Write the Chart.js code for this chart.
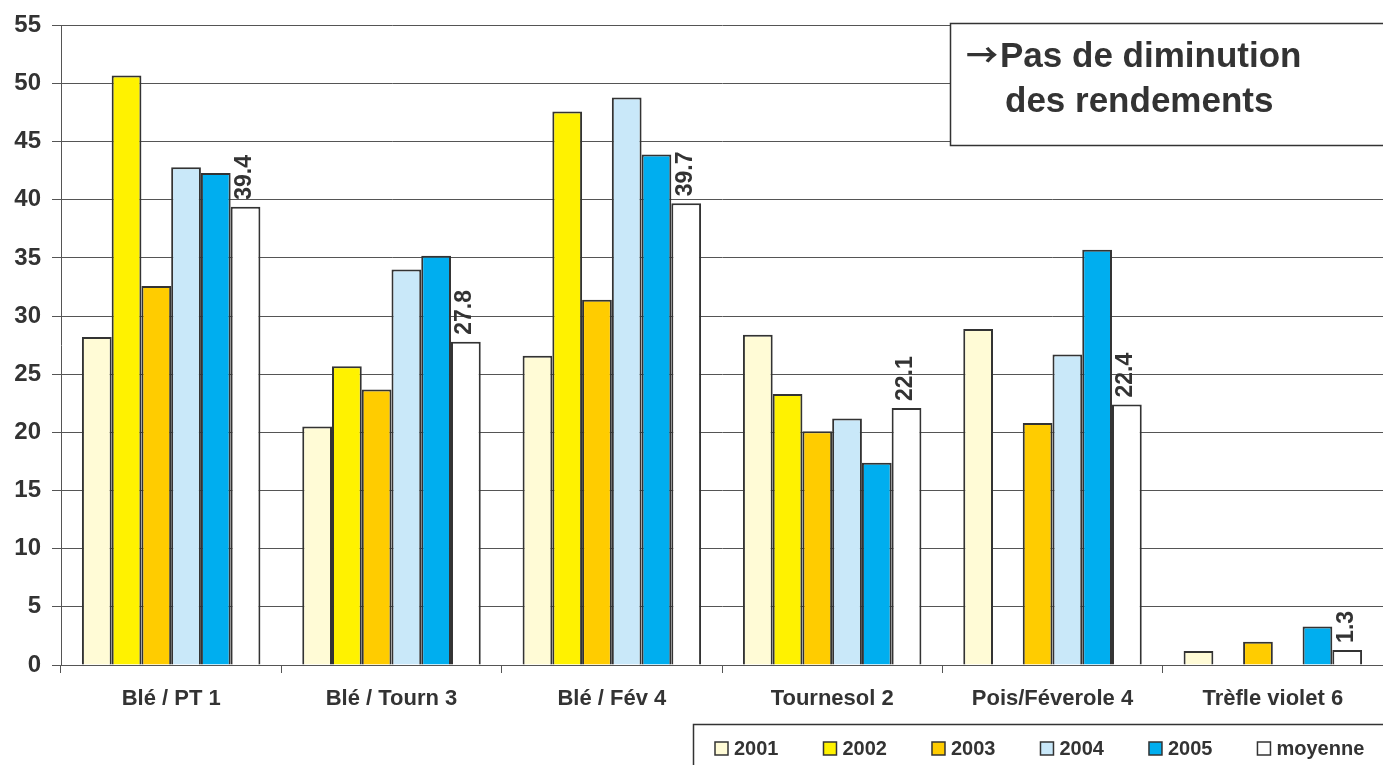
<!DOCTYPE html>
<html>
<head>
<meta charset="utf-8">
<script src="https://cdn.jsdelivr.net/npm/chart.js@4.4.1/dist/chart.umd.min.js"></script>
<style>
  html, body { margin: 0; padding: 0; background: #fff; }
  #wrap { width: 1383px; height: 765px; }
</style>
</head>
<body>
<div id="wrap"><canvas id="chart"></canvas></div>
<script>
const categories = ['Blé / PT 1', 'Blé / Tourn 3', 'Blé / Fév 4', 'Tournesol 2', 'Pois/Féverole 4', 'Trèfle violet 6'];
const years = ['2001', '2002', '2003', '2004', '2005', 'moyenne'];
const v2001 = [28.2, 20.5, 26.6, 28.4, 28.9, 1.2];
const v2002 = [50.7, 25.7, 47.6, 23.3, null, null];
const v2003 = [32.6, 23.7, 31.4, 20.1, 20.8, 2.0];
const v2004 = [42.8, 34.0, 48.8, 21.2, 26.7, null];
const v2005 = [42.3, 35.2, 43.9, 17.4, 35.7, 3.3];
const moyenne = [39.4, 27.8, 39.7, 22.1, 22.4, 1.3];
const colors = ['#FFFBD6', '#FFF200', '#FFCC00', '#C9E8F9', '#00AEEF', '#FFFFFF'];
const noteArrow = '\u2192';
const note = ['Pas de diminution', 'des rendements'];

const FONT = "'Liberation Sans', Arial, sans-serif";
const TEXT = '#333333';

const series = [v2001, v2002, v2003, v2004, v2005, moyenne];

const datasets = series.map((vals, i) => ({
    label: years[i],
    data: vals,
    backgroundColor: colors[i],
    borderColor: '#333333',
    borderWidth: 2,
    borderSkipped: 'bottom',
    categoryPercentage: 0.81,
    barPercentage: 1.0
}));

// label rotated above the "moyenne" bars + note box + legend
const extras = {
    id: 'extras',
    afterDatasetsDraw(chart) {
        const ctx = chart.ctx;
        const meta = chart.getDatasetMeta(5);
        ctx.save();
        ctx.fillStyle = TEXT;
        ctx.font = 'bold 23px ' + FONT;
        ctx.textAlign = 'left';
        ctx.textBaseline = 'middle';
        meta.data.forEach((bar, i) => {
            ctx.save();
            ctx.translate(bar.x - 1, bar.y - 7);
            ctx.rotate(-Math.PI / 2);
            ctx.fillText(moyenne[i].toFixed(1), 0, 0);
            ctx.restore();
        });
        ctx.restore();
    },
    afterDraw(chart) {
        const ctx = chart.ctx;
        ctx.save();
        // note box
        ctx.fillStyle = '#fff';
        ctx.fillRect(950, 23, 450, 122);
        ctx.strokeStyle = '#333';
        ctx.lineWidth = 1.5;
        ctx.strokeRect(950.5, 23.5, 450, 122);
        ctx.fillStyle = TEXT;
        ctx.textAlign = 'left';
        ctx.textBaseline = 'middle';
        ctx.font = "bold 32px 'Noto Sans CJK JP', 'DejaVu Sans', sans-serif";
        ctx.fillText(noteArrow, 966, 55);
        ctx.textBaseline = 'alphabetic';
        ctx.font = 'bold 35px ' + FONT;
        ctx.fillText(note[0], 1000, 67);
        ctx.fillText(note[1], 1005, 112);

        // legend
        ctx.fillStyle = '#fff';
        ctx.fillRect(693, 724, 700, 50);
        ctx.strokeRect(693.5, 724.5, 700, 50);
        ctx.font = 'bold 20px ' + FONT;
        ctx.textBaseline = 'middle';
        let x = 715;
        chart.data.datasets.forEach(ds => {
            ctx.fillStyle = ds.backgroundColor;
            ctx.fillRect(x, 742, 13, 13);
            ctx.strokeStyle = '#333';
            ctx.lineWidth = 1.5;
            ctx.strokeRect(x, 742, 13, 13);
            ctx.fillStyle = TEXT;
            ctx.fillText(ds.label, x + 19, 749);
            x += 19 + ctx.measureText(ds.label).width + 45;
        });
        ctx.restore();
    }
};

new Chart(document.getElementById('chart'), {
    type: 'bar',
    data: { labels: categories, datasets: datasets },
    options: {
        responsive: true,
        maintainAspectRatio: false,
        animation: false,
        layout: { padding: { top: 23, right: 0, bottom: 45, left: 0 } },
        plugins: {
            legend: { display: false },
            tooltip: { enabled: false }
        },
        scales: {
            x: {
                offset: true,
                grid: { display: true, drawOnChartArea: false, drawTicks: true, tickLength: 8, color: '#555', offset: true },
                border: { color: '#555', width: 1 },
                ticks: { color: TEXT, font: { family: FONT, size: 22, weight: 'bold' }, padding: 13, maxRotation: 0 },
                afterFit(scale) { scale.height = 55; }
            },
            y: {
                min: 0,
                max: 55,
                grid: { color: '#555', lineWidth: 1, tickLength: 9 },
                border: { color: '#555', width: 1 },
                ticks: { stepSize: 5, color: TEXT, font: { family: FONT, size: 24, weight: 'bold' }, padding: 11 },
                afterFit(scale) { scale.width = 61; }
            }
        }
    },
    plugins: [extras]
});
</script>
</body>
</html>
